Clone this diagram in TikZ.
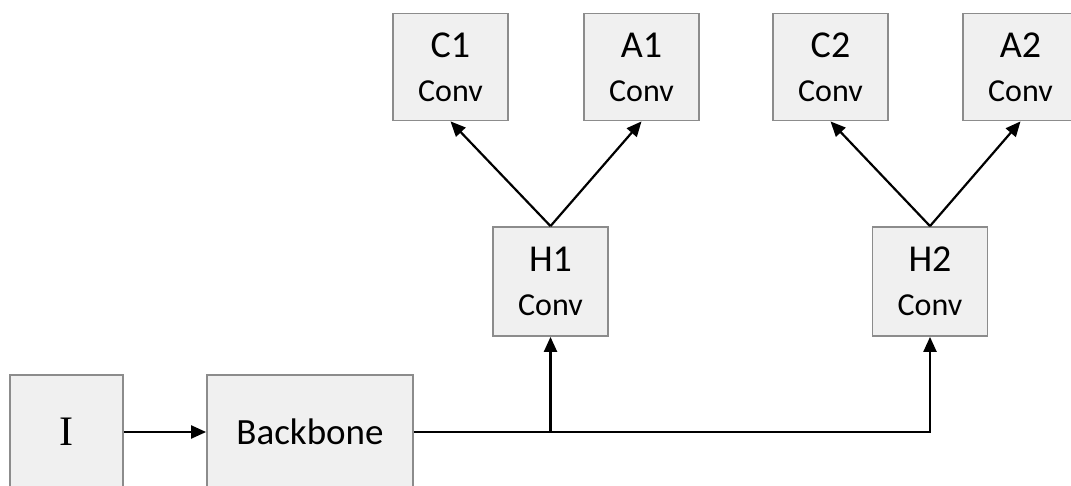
\documentclass[tikz,border=0pt]{standalone}
\usepackage{fontspec}
\setmainfont{Carlito}
\newfontfamily\inputfont{Liberation Serif}
\usetikzlibrary{arrows.meta,positioning,calc}
\definecolor{boxfill}{HTML}{F0F0F0}
\definecolor{boxline}{HTML}{8C8C8C}
\begin{document}
\begin{tikzpicture}[x=1pt,y=1pt,
  blk/.style={draw=boxline,fill=boxfill,line width=1.8pt,inner sep=0pt,align=center,font=\fontsize{38}{44}\selectfont},
  conv/.style={blk,minimum width=115pt,minimum height=107pt},
  arr/.style={line width=2.2pt,-{Triangle[length=15pt,width=13pt]}}]
\useasboundingbox (0,0) rectangle (1071,485);
\clip (0,0) rectangle (1071,485);
% input and backbone
\node[blk,minimum width=113pt,minimum height=114pt] (img) at (66.5,53) {\inputfont\fontsize{42}{44}\selectfont I};
\node[blk,minimum width=206pt,minimum height=114pt,font=\fontsize{37}{44}\selectfont] (backbone) at (310,53) {Backbone};
% heads
\node[conv,minimum height=109pt] (h1) at (550.5,203.5) {H1\\{\fontsize{32}{44}\selectfont Conv}};
\node[conv,minimum height=109pt] (h2) at (930,203.5) {H2\\{\fontsize{32}{44}\selectfont Conv}};
% outputs
\node[conv] (c1) at (450.5,418) {C1\\{\fontsize{32}{44}\selectfont Conv}};
\node[conv] (a1) at (641.5,418) {A1\\{\fontsize{32}{44}\selectfont Conv}};
\node[conv] (c2) at (830.5,418) {C2\\{\fontsize{32}{44}\selectfont Conv}};
\node[conv] (a2) at (1020.5,418) {A2\\{\fontsize{32}{44}\selectfont Conv}};
% connectors
\coordinate (split) at (h1 |- backbone.east);
\draw[arr] (img) -- (backbone);
\draw[arr] (backbone.east) -| (h2);
\draw[arr] (split) -- (h1);
\draw[arr] (h1.north) -- (c1.south);
\draw[arr] (h1.north) -- (a1.south);
\draw[arr] (h2.north) -- (c2.south);
\draw[arr] (h2.north) -- (a2.south);
\end{tikzpicture}
\end{document}
